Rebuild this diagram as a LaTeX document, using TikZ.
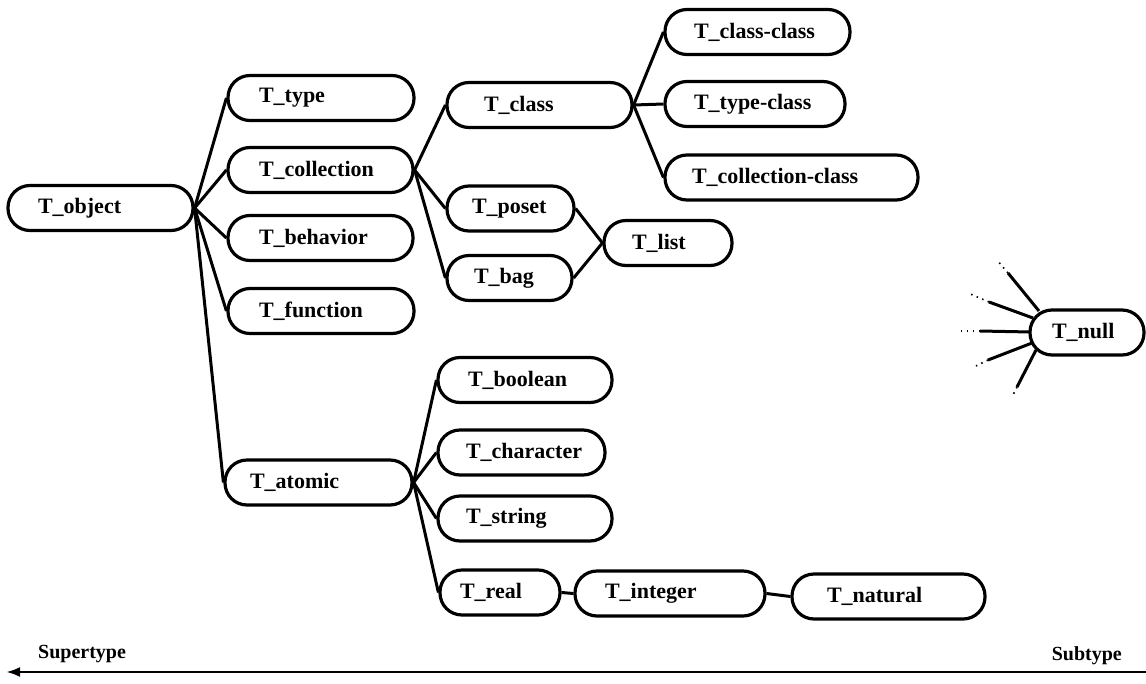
\documentclass[tikz,border=0pt]{standalone}
\usepackage{fontspec}
\setmainfont{Liberation Serif}
\usetikzlibrary{arrows.meta}
\tikzset{
  box/.style={draw, line width=3.2pt, rounded corners=22pt, minimum height=45pt,
    inner ysep=0pt, align=left, font=\fontsize{22}{24}\selectfont\bfseries},
  edge/.style={line width=3pt},
  spike/.style={line width=3pt},
  spikedots/.style={line width=1.6pt, dash pattern=on 1.5pt off 4.5pt},
  axislabel/.style={font=\fontsize{20}{22}\selectfont\bfseries, inner sep=0pt},
}
\newcommand\tnode[6]{\node[box, inner xsep=#5pt, text width=#4pt] (#1) at (#2,#3) {\mbox{#6}};}
\begin{document}
\begin{tikzpicture}[x=1pt,y=-1pt]
\useasboundingbox (0,0) rectangle (1146,683);
% nodes: name, cx, cy, textwidth, inset, text
\tnode{obj}{100.5}{208}{125}{30}{T\_object}
\tnode{type}{321}{98}{124}{31}{T\_type}
\tnode{coll}{320.5}{170}{123}{31}{T\_collection}
\tnode{behav}{320.5}{238}{123}{31}{T\_behavior}
\tnode{func}{321}{311}{124}{31}{T\_function}
\tnode{atomic}{318.5}{482.5}{137}{25}{T\_atomic}
\tnode{class}{539.5}{105}{111}{37}{T\_class}
\tnode{cc}{757.5}{32}{127}{29}{T\_class-class}
\tnode{tc}{755}{104}{122}{29}{T\_type-class}
\tnode{colc}{791.5}{177.5}{199}{27}{T\_collection-class}
\tnode{poset}{510.5}{208.5}{77}{25}{T\_poset}
\tnode{list}{668}{243}{72}{28}{T\_list}
\tnode{bag}{509.5}{278}{71}{27}{T\_bag}
\tnode{bool}{525}{380}{114}{30}{T\_boolean}
\tnode{char}{521.5}{452.5}{111}{28}{T\_character}
\tnode{str}{525}{518.5}{118}{28}{T\_string}
\tnode{real}{500}{592.5}{80}{20}{T\_real}
\tnode{int}{670}{593.5}{130}{30}{T\_integer}
\tnode{nat}{888.5}{596.5}{123}{35}{T\_natural}
\tnode{null}{1087}{332.5}{70}{22}{T\_null}
% edges
\foreach \c in {type,coll,behav,func,atomic} \draw[edge] (obj.east) -- (\c.west);
\foreach \c in {class,poset,bag} \draw[edge] (coll.east) -- (\c.west);
\foreach \c in {cc,tc,colc} \draw[edge] (class.east) -- (\c.west);
\draw[edge] (poset.east) -- (list.west);
\draw[edge] (bag.east) -- (list.west);
\foreach \c in {bool,char,str,real} \draw[edge] (atomic.east) -- (\c.west);
\draw[edge] (real.east) -- (int.west);
\draw[edge] (int.east) -- (nat.west);
% spikes into T_null
\coordinate (s1a) at (1039,311); \coordinate (s1b) at (1008,273); \coordinate (s1c) at (997,260);
\coordinate (s2a) at (1033,318); \coordinate (s2b) at (989,302); \coordinate (s2c) at (968,293);
\coordinate (s3a) at (1031,332); \coordinate (s3b) at (980,331); \coordinate (s3c) at (960,331);
\coordinate (s4a) at (1032,343); \coordinate (s4b) at (988,360); \coordinate (s4c) at (976,366);
\coordinate (s5a) at (1036,350); \coordinate (s5b) at (1017,387); \coordinate (s5c) at (1012,397);
\foreach \i in {1,...,5} {
  \draw[spike] (s\i a) -- (s\i b);
  \draw[spikedots] (s\i b) -- (s\i c);
}
% supertype / subtype axis
\coordinate (axr) at (1146,672);
\coordinate (axl) at (6,672);
\draw[line width=2.8pt, -{Latex[length=14pt,width=10pt]}] (axr) -- (axl);
\node[axislabel, anchor=west] (sup) at (38,654) {Supertype};
\node[axislabel, anchor=east] (sub) at (1122,656) {Subtype};
\end{tikzpicture}
\end{document}
